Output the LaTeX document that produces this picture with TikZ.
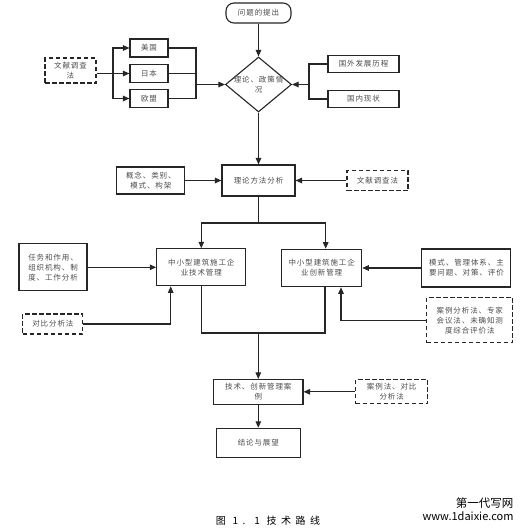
\documentclass[tikz,border=0pt]{standalone}
\usepackage{fontspec}
\newfontfamily\cjk[LetterSpace=12]{Noto Sans CJK SC}
\newfontfamily\capfont[LetterSpace=45]{Noto Sans CJK SC}
\newfontfamily\wmfont{Noto Sans CJK SC}
\usetikzlibrary{arrows.meta,shapes.geometric}
\begin{document}
\begin{tikzpicture}[x=1pt,y=-1pt,
  box/.style={draw=black!85, line width=1.1pt, fill=white, inner sep=0pt, align=center,
    text=black!70, font={\cjk\fontsize{7.5}{10}\selectfont}},
  dbox/.style={box, dash pattern=on 4.5pt off 2.5pt},
  ln/.style={draw=black!85, line width=1.1pt},
  arr/.style={ln, -{Triangle[length=6.5pt,width=5.5pt]}},
]
\useasboundingbox[fill=white] (0,0) rectangle (527,531);

% top
\node[box, rounded corners=8pt, minimum width=65pt, minimum height=20pt] (q) at (258.5,13) {问题的提出};
\node[draw=black!85, line width=1.1pt, fill=white, diamond, inner sep=0pt, minimum width=66pt, minimum height=55pt] (d) at (258.5,84.5) {};
\node[box, draw=none, fill=none] (dt) at (258.5,84.5) {理论、政策情\\况};

% left group
\node[box, minimum width=38pt, minimum height=18pt] (us) at (149,48) {美国};
\node[box, minimum width=38pt, minimum height=18pt] (jp) at (149,73.5) {日本};
\node[box, minimum width=38pt, minimum height=18pt] (eu) at (149,98.5) {欧盟};
\node[dbox, minimum width=51pt, minimum height=25pt] (lit1) at (70.5,70.5) {文献调查\\法};
\coordinate (j1) at (113,73.5);
\coordinate (j2) at (196,84.5);

% right group
\node[box, minimum width=71pt, minimum height=17pt] (fh) at (363.5,64) {国外发展历程};
\node[box, minimum width=71pt, minimum height=17pt] (dom) at (363.5,99) {国内现状};
\coordinate (j3) at (309,84.5);

% theory row
\node[box, minimum width=73pt, minimum height=31pt] (th) at (258.5,180.5) {理论方法分析};
\node[box, minimum width=68pt, minimum height=27pt] (con) at (150.8,180.5) {概念、类别、\\模式、构架};
\node[dbox, minimum width=61pt, minimum height=20pt] (lit2) at (377.5,180.5) {文献调查法};
\coordinate (j4) at (258.5,223);

% management row
\node[box, minimum width=89pt, minimum height=37pt] (tech) at (201.3,267.3) {中小型建筑施工企\\业技术管理};
\node[box, minimum width=80pt, minimum height=37.5pt] (inn) at (321.7,268) {中小型建筑施工企\\业创新管理};
\node[box, minimum width=68pt, minimum height=47pt] (task) at (53,267.3) {任务和作用、\\组织机构、制\\度、工作分析};
\node[dbox, minimum width=60pt, minimum height=20pt] (cmp) at (52.9,324) {对比分析法};
\node[box, minimum width=89pt, minimum height=38pt] (mode) at (466.4,268) {模式、管理体系、主\\要问题、对策、评价};
\node[dbox, minimum width=86pt, minimum height=45pt] (case1) at (469.8,320.3) {案例分析法、专家\\会议法、未确知测\\度综合评价法};
\coordinate (jm) at (258.3,333);

% bottom
\node[box, minimum width=89.4pt, minimum height=24.7pt] (cs) at (258.3,391.8) {技术、创新管理案\\例};
\node[dbox, minimum width=72pt, minimum height=24pt] (cl) at (391.7,391.8) {案例法、对比\\分析法};
\node[box, minimum width=84pt, minimum height=29pt] (concl) at (258.3,442.8) {结论与展望};

% caption and mark
\node[font={\capfont\fontsize{10}{12}\selectfont}] (cap) at (268,521) {图 1. 1 技术路线};
\node[anchor=east, font={\wmfont\fontsize{11.5}{13}\selectfont}] (wm1) at (517,503) {第一代写网};
\node[anchor=east, font={\wmfont\fontsize{11}{13}\selectfont}] (wm2) at (517,516.5) {www.1daixie.com};

% connectors
\draw[arr] (q) -- (d);
\draw[ln] (lit1.east |- jp) -- (j1);
\draw[arr] (j1) |- (us);
\draw[arr] (j1) -- (jp);
\draw[arr] (j1) |- (eu);
\draw[ln] (us.east) -| (j2);
\draw[ln] (jp.east) -| (j2);
\draw[ln] (eu.east) -| (j2);
\draw[arr] (j2) -- (d.west);
\draw[ln] (fh.west) -| (j3);
\draw[ln] (dom.west) -| (j3);
\draw[arr] (j3) -- (d.east);
\draw[arr] (d.south) -- (th);
\draw[arr] (con) -- (th);
\draw[arr] (lit2) -- (th);
\draw[ln] (th.south) -- (j4);
\draw[arr] (j4) -| (tech.north);
\draw[arr] (j4) -| ([xshift=4pt]inn.north);
\draw[arr] (task) -- (tech);
\draw[arr] (cmp.east) -| ([xshift=-30.6pt]tech.south);
\draw[arr] (mode) -- (inn);
\draw[arr] (case1.west) -| ([xshift=19.3pt]inn.south);
\draw[ln] (tech.south) |- (jm) -| ([xshift=3.3pt]inn.south);
\draw[arr] (jm) -- (cs);
\draw[arr] (cl) -- (cs);
\draw[arr] (cs) -- (concl);
\end{tikzpicture}
\end{document}
